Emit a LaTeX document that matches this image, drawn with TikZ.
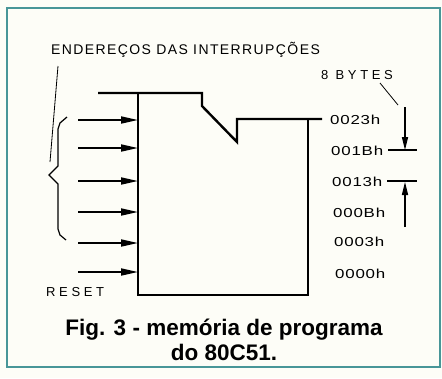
\documentclass[tikz,border=0pt]{standalone}
\usepackage{fontspec}
\setmainfont{Liberation Sans}
\newfontfamily\titlefont[LetterSpace=10]{Liberation Sans}
\newfontfamily\addrfont[LetterSpace=28]{Liberation Sans}
\newfontfamily\hexfont[LetterSpace=6, FakeStretch=1.3]{Liberation Sans}
\usetikzlibrary{arrows.meta}
\definecolor{framecol}{RGB}{72,150,152}
\definecolor{paper}{RGB}{253,253,247}

\begin{document}
\begin{tikzpicture}[x=1pt, y=-1pt,
    mem/.style={line width=2.4pt, line join=miter},
    feed/.style={line width=1.8pt, -{Triangle[length=17pt, width=7pt]}},
    span/.style={line width=1.3pt, -{Triangle[length=13pt, width=6pt]}},
    lead/.style={line width=0.8pt},
    addr/.style={anchor=base west, inner sep=0pt, font=\fontsize{13}{15}\selectfont\addrfont},
    hex/.style={anchor=base west, inner sep=0pt, font=\fontsize{13}{15}\selectfont\hexfont},
    caption/.style={anchor=base, inner sep=0pt, font=\fontsize{22.5}{25}\selectfont\bfseries}]
    \fill[paper] (0,0) rectangle (442,378);
    \useasboundingbox (0,0) rectangle (442,378);
    \draw[framecol, line width=2pt] (7,8) rectangle (440,367);

    % labels
    \node[anchor=base west, inner sep=0pt, font=\fontsize{14}{16}\selectfont\titlefont] (title) at (51,54) {ENDEREÇOS DAS INTERRUPÇÕES};
    \node[addr] (bytes) at (321,79) {8 BYTES};
    \node[addr] (reset) at (46,296) {RESET};
    \node[hex] (a23) at (330,124) {0023h};
    \node[hex] (a1b) at (331,155) {001Bh};
    \node[hex] (a13) at (332,186) {0013h};
    \node[hex] (a0b) at (333,217) {000Bh};
    \node[hex] (a03) at (334,246) {0003h};
    \node[hex] (a00) at (335,278) {0000h};

    % memory block
    \draw[mem] (98,93) -- (202,93) -- (202,106) -- (237,142) -- (237,119) -- (322,119);
    \draw[mem] (138,93) -- (138,295) -- (308,295) -- (308,118);

    % vectors
    \foreach \y [count=\i] in {120,148,181,212,243,272} {
        \coordinate (src\i) at (78,\y);
        \coordinate (dst\i) at (138,\y);
        \draw[feed] (src\i) -- (dst\i);
    }

    % brace
    \draw[line width=1.2pt] (67,117) -- (60,123) -- (58,129) -- (58,166) -- (49,175) -- (58,184) -- (58,229) -- (60,235) -- (66,240);
    \coordinate (t1) at (58,66);
    \coordinate (t2) at (50,162);
    \draw[lead] (t1) -- (t2);

    % 8 bytes
    \coordinate (b1) at (380,83);
    \coordinate (b2) at (398,105);
    \draw[lead] (b1) -- (b2);
    \coordinate (top) at (405,107);
    \coordinate (mid1) at (405,150);
    \coordinate (mid2) at (405,182);
    \coordinate (bot) at (405,227);
    \draw[span] (top) -- (mid1);
    \draw[span] (bot) -- (mid2);
    \coordinate (m1l) at (388,150);
    \coordinate (m1r) at (417,150);
    \coordinate (m2l) at (387,181);
    \coordinate (m2r) at (417,181);
    \draw[line width=1.3pt] (m1l) -- (m1r);
    \draw[line width=1.3pt] (m2l) -- (m2r);

    \node[caption] (cap1) at (224,335) {Fig. 3 - memória de programa};
    \node[caption] (cap2) at (224,360) {do 80C51.};
\end{tikzpicture}
\end{document}
